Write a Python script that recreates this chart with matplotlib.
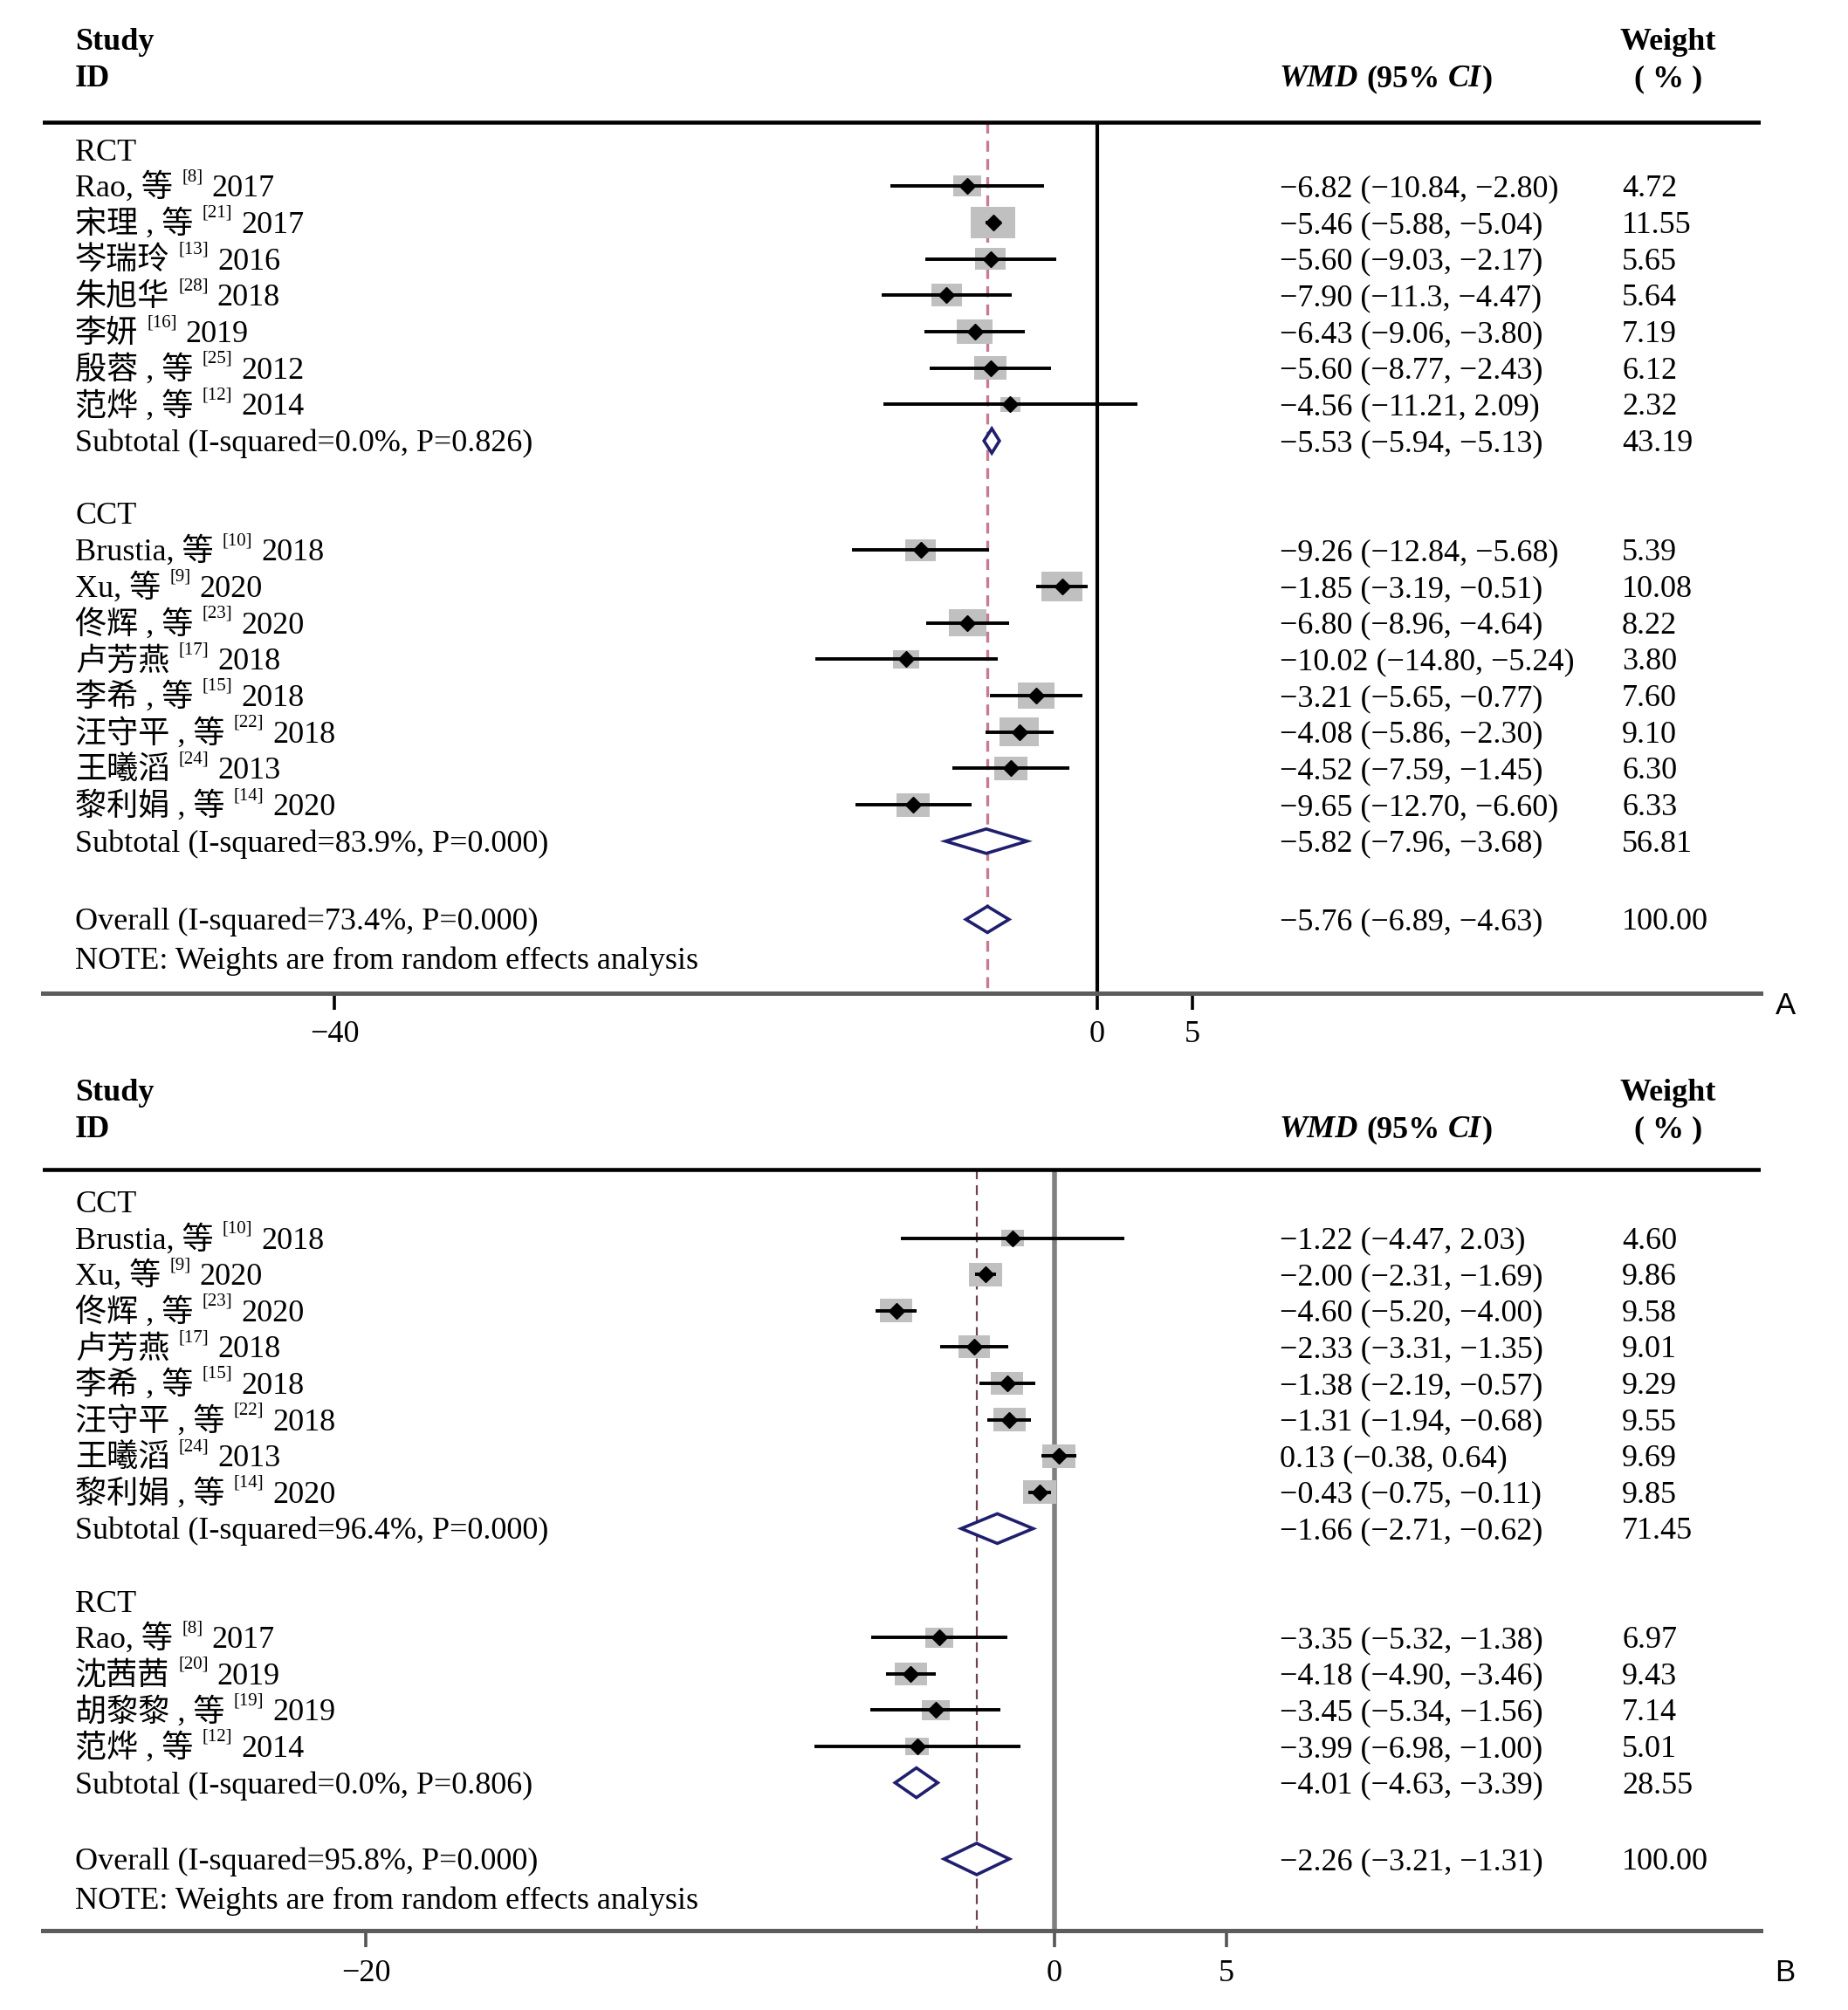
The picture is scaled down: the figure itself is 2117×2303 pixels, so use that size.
import numpy as np
import matplotlib
matplotlib.use("Agg")
import matplotlib.pyplot as plt
from matplotlib.transforms import Affine2D
from matplotlib.patches import Rectangle, Polygon

# ---------------- data ----------------
# Panel A
A_group_names = ["RCT", "CCT"]
A_RCT_names = ["Rao, 等", "宋理 , 等", "岑瑞玲", "朱旭华", "李妍", "殷蓉 , 等", "范烨 , 等"]
A_RCT_refs = ["8", "21", "13", "28", "16", "25", "12"]
A_RCT_years = ["2017", "2017", "2016", "2018", "2019", "2012", "2014"]
A_RCT_est = ["-6.82", "-5.46", "-5.60", "-7.90", "-6.43", "-5.60", "-4.56"]
A_RCT_lo = ["-10.84", "-5.88", "-9.03", "-11.3", "-9.06", "-8.77", "-11.21"]
A_RCT_hi = ["-2.80", "-5.04", "-2.17", "-4.47", "-3.80", "-2.43", "2.09"]
A_RCT_w = ["4.72", "11.55", "5.65", "5.64", "7.19", "6.12", "2.32"]

A_CCT_names = ["Brustia, 等", "Xu, 等", "佟辉 , 等", "卢芳燕", "李希 , 等", "汪守平 , 等", "王曦滔", "黎利娟 , 等"]
A_CCT_refs = ["10", "9", "23", "17", "15", "22", "24", "14"]
A_CCT_years = ["2018", "2020", "2020", "2018", "2018", "2018", "2013", "2020"]
A_CCT_est = ["-9.26", "-1.85", "-6.80", "-10.02", "-3.21", "-4.08", "-4.52", "-9.65"]
A_CCT_lo = ["-12.84", "-3.19", "-8.96", "-14.80", "-5.65", "-5.86", "-7.59", "-12.70"]
A_CCT_hi = ["-5.68", "-0.51", "-4.64", "-5.24", "-0.77", "-2.30", "-1.45", "-6.60"]
A_CCT_w = ["5.39", "10.08", "8.22", "3.80", "7.60", "9.10", "6.30", "6.33"]

A_sub_i2 = ["0.0%", "83.9%"]
A_sub_p = ["0.826", "0.000"]
A_sub_est = ["-5.53", "-5.82"]
A_sub_lo = ["-5.94", "-7.96"]
A_sub_hi = ["-5.13", "-3.68"]
A_sub_w = ["43.19", "56.81"]

A_overall = dict(i2="73.4%", p="0.000", est="-5.76", lo="-6.89", hi="-4.63", w="100.00")
A_ticks = [-40, 0, 5]

# Panel B
B_group_names = ["CCT", "RCT"]
B_CCT_names = ["Brustia, 等", "Xu, 等", "佟辉 , 等", "卢芳燕", "李希 , 等", "汪守平 , 等", "王曦滔", "黎利娟 , 等"]
B_CCT_refs = ["10", "9", "23", "17", "15", "22", "24", "14"]
B_CCT_years = ["2018", "2020", "2020", "2018", "2018", "2018", "2013", "2020"]
B_CCT_est = ["-1.22", "-2.00", "-4.60", "-2.33", "-1.38", "-1.31", "0.13", "-0.43"]
B_CCT_lo = ["-4.47", "-2.31", "-5.20", "-3.31", "-2.19", "-1.94", "-0.38", "-0.75"]
B_CCT_hi = ["2.03", "-1.69", "-4.00", "-1.35", "-0.57", "-0.68", "0.64", "-0.11"]
B_CCT_w = ["4.60", "9.86", "9.58", "9.01", "9.29", "9.55", "9.69", "9.85"]

B_RCT_names = ["Rao, 等", "沈茜茜", "胡黎黎 , 等", "范烨 , 等"]
B_RCT_refs = ["8", "20", "19", "12"]
B_RCT_years = ["2017", "2019", "2019", "2014"]
B_RCT_est = ["-3.35", "-4.18", "-3.45", "-3.99"]
B_RCT_lo = ["-5.32", "-4.90", "-5.34", "-6.98"]
B_RCT_hi = ["-1.38", "-3.46", "-1.56", "-1.00"]
B_RCT_w = ["6.97", "9.43", "7.14", "5.01"]

B_sub_i2 = ["96.4%", "0.0%"]
B_sub_p = ["0.000", "0.806"]
B_sub_est = ["-1.66", "-4.01"]
B_sub_lo = ["-2.71", "-4.63"]
B_sub_hi = ["-0.62", "-3.39"]
B_sub_w = ["71.45", "28.55"]

B_overall = dict(i2="95.8%", p="0.000", est="-2.26", lo="-3.21", hi="-1.31", w="100.00")
B_ticks = [-20, 0, 5]

# ---------------- setup ----------------
W, H = 2117, 2303
DPI = 100
plt.rcParams["lines.scale_dashes"] = False
SERIF = ["Liberation Serif", "Noto Sans CJK SC", "DejaVu Sans"]
plt.rcParams["font.family"] = SERIF

fig = plt.figure(figsize=(W / DPI, H / DPI), dpi=DPI)
fig.patch.set_facecolor("white")
PIX = Affine2D().scale(1, -1).translate(0, H)   # pixel coords, origin top-left
renderer = fig.canvas.get_renderer()

FS = 26
LABEL_X = 86
CI_X = 1466
WT_X = 1858
WT_CX = 1911
BASE = 12  # baseline offset from row centre


def disp(s):
    return s.replace("-", "\u2212")


def put(x, y, s, size=FS, weight="normal", style="normal", ha="left", family=None):
    return fig.text(x, y, s, transform=PIX, fontsize=size, fontweight=weight,
                    fontstyle=style, ha=ha, va="baseline",
                    family=family if family else SERIF)


def right_edge(t):
    return t.get_window_extent(renderer=renderer).x1


def study_label(yc, name, ref, year):
    yb = yc + BASE
    t = put(LABEL_X, yb, name)
    t2 = put(right_edge(t) + 10, yb - 18, "[" + ref + "]", size=15)
    put(right_edge(t2) + 10, yb, year)


def header(y_study):
    put(LABEL_X, y_study + BASE, "Study", weight="bold")
    put(LABEL_X, y_study + 42 + BASE, "ID", weight="bold")
    put(WT_CX, y_study + BASE, "Weight", weight="bold", ha="center")
    put(WT_CX, y_study + 42 + BASE, "( % )", weight="bold", ha="center")
    yb = y_study + 42 + BASE
    t = put(CI_X, yb, "WMD", weight="bold", style="italic")
    t = put(right_edge(t) + 9, yb, "(95%", weight="bold")
    t = put(right_edge(t) + 9, yb, "CI", weight="bold", style="italic")
    put(right_edge(t) + 1, yb, ")", weight="bold")


def make_axes(top_px, bot_px, x0_px, x1_px, zero_px, ppu):
    ax = fig.add_axes([x0_px / W, 1 - bot_px / H, (x1_px - x0_px) / W, (bot_px - top_px) / H])
    ax.set_xlim((x0_px - zero_px) / ppu, (x1_px - zero_px) / ppu)
    ax.set_ylim(bot_px, top_px)
    ax.patch.set_alpha(0)
    for s in ["left", "right", "top"]:
        ax.spines[s].set_visible(False)
    ax.spines["bottom"].set_color("#5c5c5c")
    ax.spines["bottom"].set_linewidth(3.6)
    ax.set_yticks([])
    return ax


def draw_panel(ax, ppu, groups, overall, ticks, y0, sp, top_line, bot_px,
               box_k, box_ratio, dia_h, zero_color, zero_lw, ref_color, ref_lw,
               ref_dash, tick_color, tick_pad, letter, letter_y, y_study,
               overall_off, note_off):
    header(y_study)
    ax.axhline(top_line, color="black", lw=3.3, zorder=5)
    ax.vlines(0, top_line, bot_px, color=zero_color, lw=zero_lw, zorder=1)
    oest = float(overall["est"])
    ax.vlines(oest, top_line, bot_px, color=ref_color, lw=ref_lw,
              linestyles=[(0, ref_dash)], zorder=1.5)

    idx = 0
    for g in groups:
        yc = y0 + idx * sp
        put(LABEL_X, yc + BASE, g["name"])
        idx += 1
        for n, r, yr, e, lo, hi, w in zip(g["names"], g["refs"], g["years"],
                                          g["est"], g["lo"], g["hi"], g["w"]):
            yc = y0 + idx * sp
            study_label(yc, n, r, yr)
            put(CI_X, yc + BASE, disp(f"{e} ({lo}, {hi})"))
            put(WT_X, yc + BASE, w)
            ev, lv, hv, wv = float(e), float(lo), float(hi), float(w)
            bw = box_k * np.sqrt(wv)
            bh = bw * box_ratio
            ax.add_patch(Rectangle((ev - bw / 2 / ppu, yc - bh / 2), bw / ppu, bh,
                                   facecolor="#c0c0c0", edgecolor="none", zorder=2))
            ax.plot([lv, hv], [yc, yc], color="black", lw=2.8, zorder=3,
                    solid_capstyle="butt")
            ax.plot([ev], [yc], marker="D", ms=9.5, color="black", zorder=4)
            idx += 1
        yc = y0 + idx * sp
        put(LABEL_X, yc + BASE, f"Subtotal (I-squared={g['i2']}, P={g['p']})")
        put(CI_X, yc + BASE, disp(f"{g['sest']} ({g['slo']}, {g['shi']})"))
        put(WT_X, yc + BASE, g["sw"])
        se, sl, sh = float(g["sest"]), float(g["slo"]), float(g["shi"])
        ax.add_patch(Polygon([(sl, yc), (se, yc - dia_h), (sh, yc), (se, yc + dia_h)],
                             closed=True, facecolor="white", edgecolor="#1f1f6e",
                             lw=2.6, zorder=4))
        idx += 2
    yc = y0 + (idx - 1 + overall_off) * sp
    put(LABEL_X, yc + BASE, f"Overall (I-squared={overall['i2']}, P={overall['p']})")
    put(CI_X, yc + BASE, disp(f"{overall['est']} ({overall['lo']}, {overall['hi']})"))
    put(WT_X, yc + BASE, overall["w"])
    ol, oh = float(overall["lo"]), float(overall["hi"])
    ax.add_patch(Polygon([(ol, yc), (oest, yc - dia_h - 1), (oh, yc), (oest, yc + dia_h + 1)],
                         closed=True, facecolor="white", edgecolor="#1f1f6e",
                         lw=2.6, zorder=4))
    yn = yc + note_off * sp
    put(LABEL_X, yn + BASE, "NOTE: Weights are from random effects analysis")

    ax.set_xticks(ticks)
    ax.set_xticklabels([disp(str(t)) for t in ticks], fontsize=FS, family=SERIF)
    ax.tick_params(axis="x", direction="out", length=14, width=2.6, color=tick_color,
                   pad=tick_pad)
    fig.text(2045, letter_y, letter, transform=PIX, fontsize=25, ha="center", va="center",
             family=["Liberation Sans", "DejaVu Sans"])


# ---------------- panel A ----------------
axA = make_axes(0, 1138, 49, 2017, 1257, 21.85)
groupsA = [
    dict(name=A_group_names[0], names=A_RCT_names, refs=A_RCT_refs, years=A_RCT_years,
         est=A_RCT_est, lo=A_RCT_lo, hi=A_RCT_hi, w=A_RCT_w,
         i2=A_sub_i2[0], p=A_sub_p[0], sest=A_sub_est[0], slo=A_sub_lo[0],
         shi=A_sub_hi[0], sw=A_sub_w[0]),
    dict(name=A_group_names[1], names=A_CCT_names, refs=A_CCT_refs, years=A_CCT_years,
         est=A_CCT_est, lo=A_CCT_lo, hi=A_CCT_hi, w=A_CCT_w,
         i2=A_sub_i2[1], p=A_sub_p[1], sest=A_sub_est[1], slo=A_sub_lo[1],
         shi=A_sub_hi[1], sw=A_sub_w[1]),
]
draw_panel(axA, 21.85, groupsA, A_overall, A_ticks, y0=171.5, sp=41.7, top_line=140.5,
           bot_px=1138, box_k=15.0, box_ratio=0.72, dia_h=14, zero_color="black",
           zero_lw=3.0, ref_color="#c87a90", ref_lw=2.4, ref_dash=(9, 6),
           tick_color="black", tick_pad=8, letter="A", letter_y=1152, y_study=45,
           overall_off=1.15, note_off=1.08)

# ---------------- panel B ----------------
axB = make_axes(1200, 2212, 49, 2017, 1208, 39.45)
groupsB = [
    dict(name=B_group_names[0], names=B_CCT_names, refs=B_CCT_refs, years=B_CCT_years,
         est=B_CCT_est, lo=B_CCT_lo, hi=B_CCT_hi, w=B_CCT_w,
         i2=B_sub_i2[0], p=B_sub_p[0], sest=B_sub_est[0], slo=B_sub_lo[0],
         shi=B_sub_hi[0], sw=B_sub_w[0]),
    dict(name=B_group_names[1], names=B_RCT_names, refs=B_RCT_refs, years=B_RCT_years,
         est=B_RCT_est, lo=B_RCT_lo, hi=B_RCT_hi, w=B_RCT_w,
         i2=B_sub_i2[1], p=B_sub_p[1], sest=B_sub_est[1], slo=B_sub_lo[1],
         shi=B_sub_hi[1], sw=B_sub_w[1]),
]
draw_panel(axB, 39.45, groupsB, B_overall, B_ticks, y0=1377, sp=41.6, top_line=1340.5,
           bot_px=2212, box_k=12.0, box_ratio=0.72, dia_h=17, zero_color="#808080",
           zero_lw=4.0, ref_color="#6e4450", ref_lw=1.6, ref_dash=(8, 5),
           tick_color="#555555", tick_pad=10, letter="B", letter_y=2261, y_study=1249,
           overall_off=1.1, note_off=1.08)

fig.savefig("out.png", dpi=DPI, facecolor="white")
